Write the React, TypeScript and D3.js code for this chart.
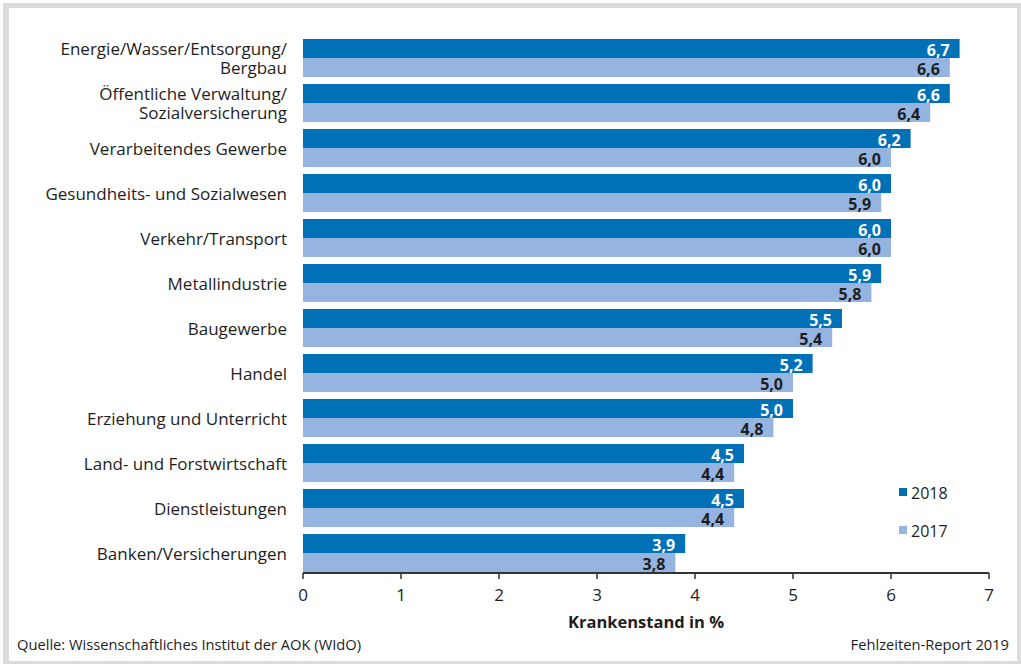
import React from "react";
import * as d3 from "d3";

const categories: string[][] = [
  ["Energie/Wasser/Entsorgung/", "Bergbau"],
  ["Öffentliche Verwaltung/", "Sozialversicherung"],
  ["Verarbeitendes Gewerbe"],
  ["Gesundheits- und Sozialwesen"],
  ["Verkehr/Transport"],
  ["Metallindustrie"],
  ["Baugewerbe"],
  ["Handel"],
  ["Erziehung und Unterricht"],
  ["Land- und Forstwirtschaft"],
  ["Dienstleistungen"],
  ["Banken/Versicherungen"],
];
const values2018 = [6.7, 6.6, 6.2, 6.0, 6.0, 5.9, 5.5, 5.2, 5.0, 4.5, 4.5, 3.9];
const values2017 = [6.6, 6.4, 6.0, 5.9, 6.0, 5.8, 5.4, 5.0, 4.8, 4.4, 4.4, 3.8];
const seriesNames = ["2018", "2017"];
const xTicks = [0, 1, 2, 3, 4, 5, 6, 7];

const W = 1021;
const H = 664;
const FONT = "'Open Sans', sans-serif";
const colors = ["#0071b7", "#95b4df"];
const labelColors = ["#ffffff", "#1e1e1e"];
const fmt = (v: number) => v.toFixed(1).replace(".", ",");

export default function App() {
  const x = d3.scaleLinear().domain([0, 7]).range([303, 989]);
  const keys = categories.map((c) => c.join(" "));
  const y = d3.scaleBand<string>().domain(keys).range([39, 572]).paddingInner(7 / 45).paddingOuter(0);
  const y2 = d3.scaleBand<string>().domain(seriesNames).range([0, y.bandwidth()]);
  const series = [values2018, values2017];
  const axisY = 573;

  return (
    <svg width={W} height={H} style={{ position: "absolute", left: 0, top: 0 }} fontFamily={FONT}>
      <rect x={0} y={0} width={W} height={H} fill="#ffffff" />
      <rect x={3} y={3} width={W - 3} height={H - 3} fill="#dcdcdc" />
      <rect x={9} y={8} width={1008} height={653} fill="#ffffff" />

      {keys.map((k, i) => {
        const y0 = y(k)!;
        const cy = y0 + y.bandwidth() / 2;
        const lines = categories[i];
        return (
          <g key={k}>
            {lines.map((ln, j) => (
              <text
                key={j}
                x={287}
                y={lines.length === 1 ? cy : cy + (j - 0.5) * 19.5}
                textAnchor="end"
                dominantBaseline="central"
                fontSize={17}
                fill="#1e1e1e"
              >
                {ln}
              </text>
            ))}
            {series.map((vals, s) => {
              const by = y0 + y2(seriesNames[s])!;
              const bh = y2.bandwidth();
              return (
                <g key={s}>
                  <rect x={x(0)} y={by} width={x(vals[i]) - x(0)} height={bh} fill={colors[s]} />
                  <text
                    x={x(vals[i]) - 10}
                    y={by + bh / 2 + 1}
                    textAnchor="end"
                    dominantBaseline="central"
                    fontSize={16}
                    fontWeight="bold"
                    fill={labelColors[s]}
                  >
                    {fmt(vals[i])}
                  </text>
                </g>
              );
            })}
          </g>
        );
      })}

      <line x1={x(0)} x2={x(7)} y1={axisY} y2={axisY} stroke="#333" strokeWidth={2} />
      {xTicks.map((t) => (
        <g key={t}>
          <line x1={x(t)} x2={x(t)} y1={axisY} y2={axisY + 6} stroke="#333" strokeWidth={1.5} />
          <text x={x(t)} y={594} textAnchor="middle" dominantBaseline="central" fontSize={17} fill="#1e1e1e">
            {t}
          </text>
        </g>
      ))}
      <text x={x(3.5)} y={621} textAnchor="middle" dominantBaseline="central" fontSize={16.5} fontWeight="bold" fill="#1e1e1e">
        Krankenstand in %
      </text>

      {seriesNames.map((n, s) => (
        <g key={n}>
          <rect x={899} y={488 + s * 38} width={8} height={8} fill={colors[s]} />
          <text x={911} y={493 + s * 38} dominantBaseline="central" fontSize={16} fill="#1e1e1e">
            {n}
          </text>
        </g>
      ))}

      <text x={17} y={644} dominantBaseline="central" fontSize={14.7} fill="#1e1e1e">
        Quelle: Wissenschaftliches Institut der AOK (WIdO)
      </text>
      <text x={1009} y={644} textAnchor="end" dominantBaseline="central" fontSize={14.7} fill="#1e1e1e">
        Fehlzeiten-Report 2019
      </text>
    </svg>
  );
}
